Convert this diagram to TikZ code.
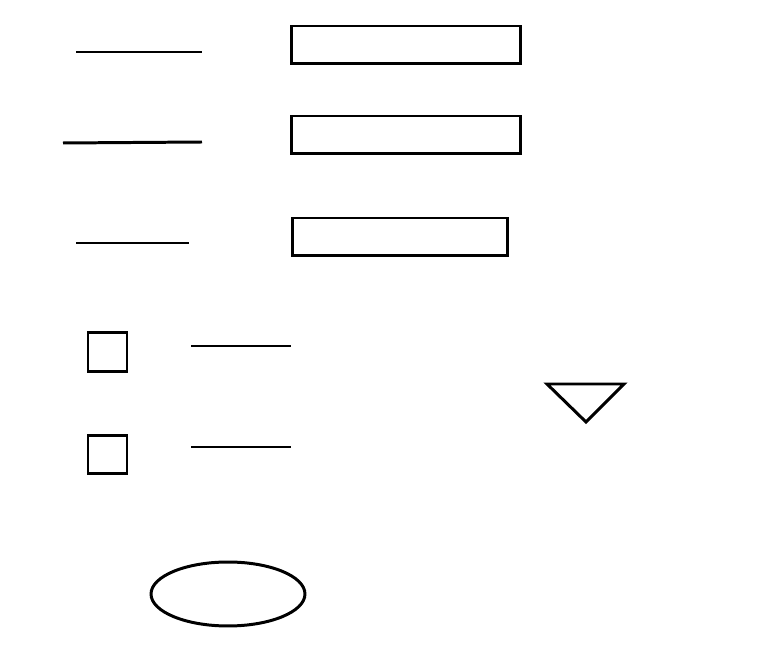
\documentclass[tikz,border=0pt]{standalone}
\usepackage{tikz}
\usetikzlibrary{shapes.geometric}

\begin{document}
\begin{tikzpicture}[x=0.02cm, y=-0.02cm, line width=1.7pt,
                    every node/.style={draw=black, inner sep=0pt, outer sep=0pt},
                    field/.style={rectangle, minimum height=0.76cm},
                    tick/.style={rectangle, minimum width=0.78cm, minimum height=0.77cm}]

\useasboundingbox (0,0) rectangle (762,645);

\node[field, minimum width=4.6cm] (R1) at (406,45) {};
\node[field, minimum width=4.6cm] (R2) at (406,135) {};
\node[field, minimum width=4.32cm] (R3) at (400,237) {};

\node[tick] (C1) at (107.5,352) {};
\node[tick] (C2) at (107.5,454.5) {};

\node[ellipse, minimum width=3.08cm, minimum height=1.28cm] (E) at (228,594) {};

\coordinate (L1a) at (76,52);  \coordinate (L1b) at (202,52);
\coordinate (L2a) at (63,143); \coordinate (L2b) at (202,142);
\coordinate (L3a) at (76,243); \coordinate (L3b) at (189,243);
\coordinate (L4a) at (191,346); \coordinate (L4b) at (291,346);
\coordinate (L5a) at (191,447); \coordinate (L5b) at (291,447);

\draw (L1a) -- (L1b);
\draw (L2a) -- (L2b);
\draw (L3a) -- (L3b);
\draw (L4a) -- (L4b);
\draw (L5a) -- (L5b);

\coordinate (T1) at (547,384); \coordinate (T2) at (624,384); \coordinate (T3) at (586,422);
\draw (T1) -- (T2) -- (T3) -- cycle;
\end{tikzpicture}
\end{document}
